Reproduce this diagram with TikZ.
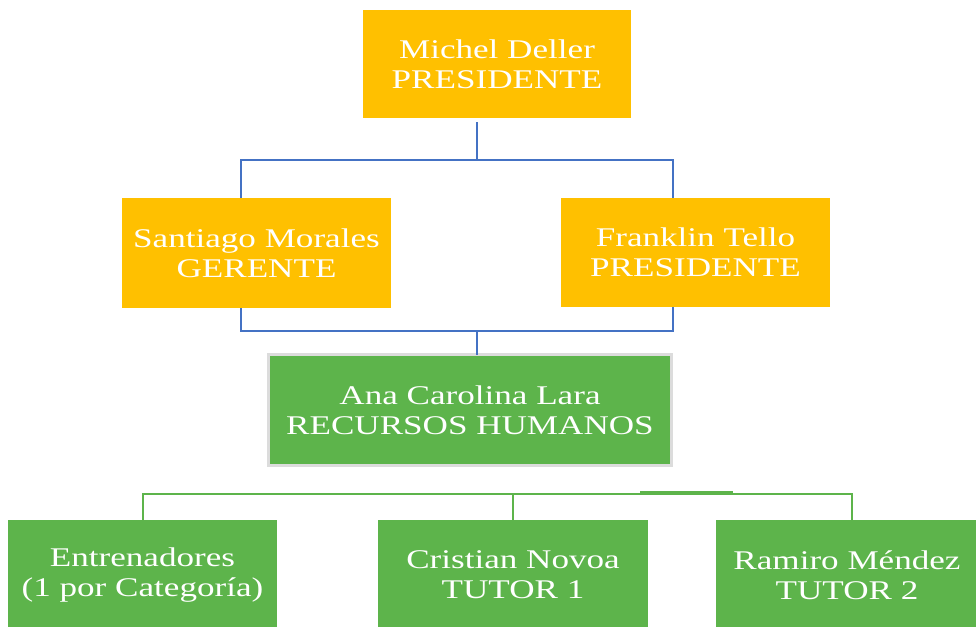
\documentclass[tikz,border=0pt]{standalone}
\usepackage{fontspec}
\setmainfont{Liberation Serif}[FakeStretch=1.3]
\definecolor{orgorange}{HTML}{FFC000}
\definecolor{orggreen}{HTML}{5DB44B}
\definecolor{orgblue}{HTML}{4472C4}
\definecolor{orggrey}{HTML}{DCDCDC}
\tikzset{
  orgbox/.style={rectangle, inner sep=0pt, outer sep=0pt, align=center, text=white,
    font=\fontsize{27}{30}\selectfont},
  yellowbox/.style={orgbox, fill=orgorange},
  greenbox/.style={orgbox, fill=orggreen},
  blueline/.style={draw=orgblue, line width=2pt},
  greenline/.style={draw=orggreen, line width=2.5pt}
}
\begin{document}
\begin{tikzpicture}[x=1pt,y=-1pt]
\useasboundingbox (0,0) rectangle (976,626);
% boxes
\node[yellowbox, minimum width=268pt, minimum height=108pt] (pres) at (497,64) {Michel Deller\\PRESIDENTE};
\node[yellowbox, minimum width=269pt, minimum height=110pt] (ger) at (256.5,253) {Santiago Morales\\GERENTE};
\node[yellowbox, minimum width=269pt, minimum height=109pt] (fra) at (695.5,252.5) {Franklin Tello\\PRESIDENTE};
\node[greenbox, draw=orggrey, line width=3pt, minimum width=403pt, minimum height=111pt] (rrhh) at (470,410) {Ana Carolina Lara\\RECURSOS HUMANOS};
\node[greenbox, minimum width=269pt, minimum height=110pt] (ent) at (142.5,575) {Entrenadores\\(1 por Categoría)};
\node[greenbox, minimum width=270pt, minimum height=110pt] (cri) at (513,575) {Cristian Novoa\\TUTOR 1};
\node[greenbox, minimum width=262pt, minimum height=110pt] (ram) at (847,575) {Ramiro Méndez\\TUTOR 2};
% helper coordinates
\coordinate (pjoin) at (477,160);
\coordinate (gl) at (241,160);
\coordinate (fr) at (673,160);
\coordinate (ljoin) at (477,331);
\coordinate (lgl) at (241,331);
\coordinate (lfr) at (673,331);
\coordinate (bl) at (143,494);
\coordinate (bm) at (513,494);
\coordinate (br) at (852,494);
% blue connectors
\draw[blueline] (pres.south -| pjoin) ++(0,4) -- (pjoin);
\draw[blueline] (ger.north -| gl) -- (gl) -- (fr) -- (fra.north -| fr);
\draw[blueline] (ger.south -| lgl) -- (lgl) -- (lfr) -- (fra.south -| lfr);
\draw[blueline] (ljoin) -- (rrhh.north -| ljoin) ++(0,-2);
% green connectors
\draw[greenline] (ent.north -| bl) -- (bl) -- (br) -- (ram.north -| br);
\draw[greenline] (bm) -- (cri.north -| bm);
\draw[greenline] (640,492) -- (733,492);
\end{tikzpicture}
\end{document}
